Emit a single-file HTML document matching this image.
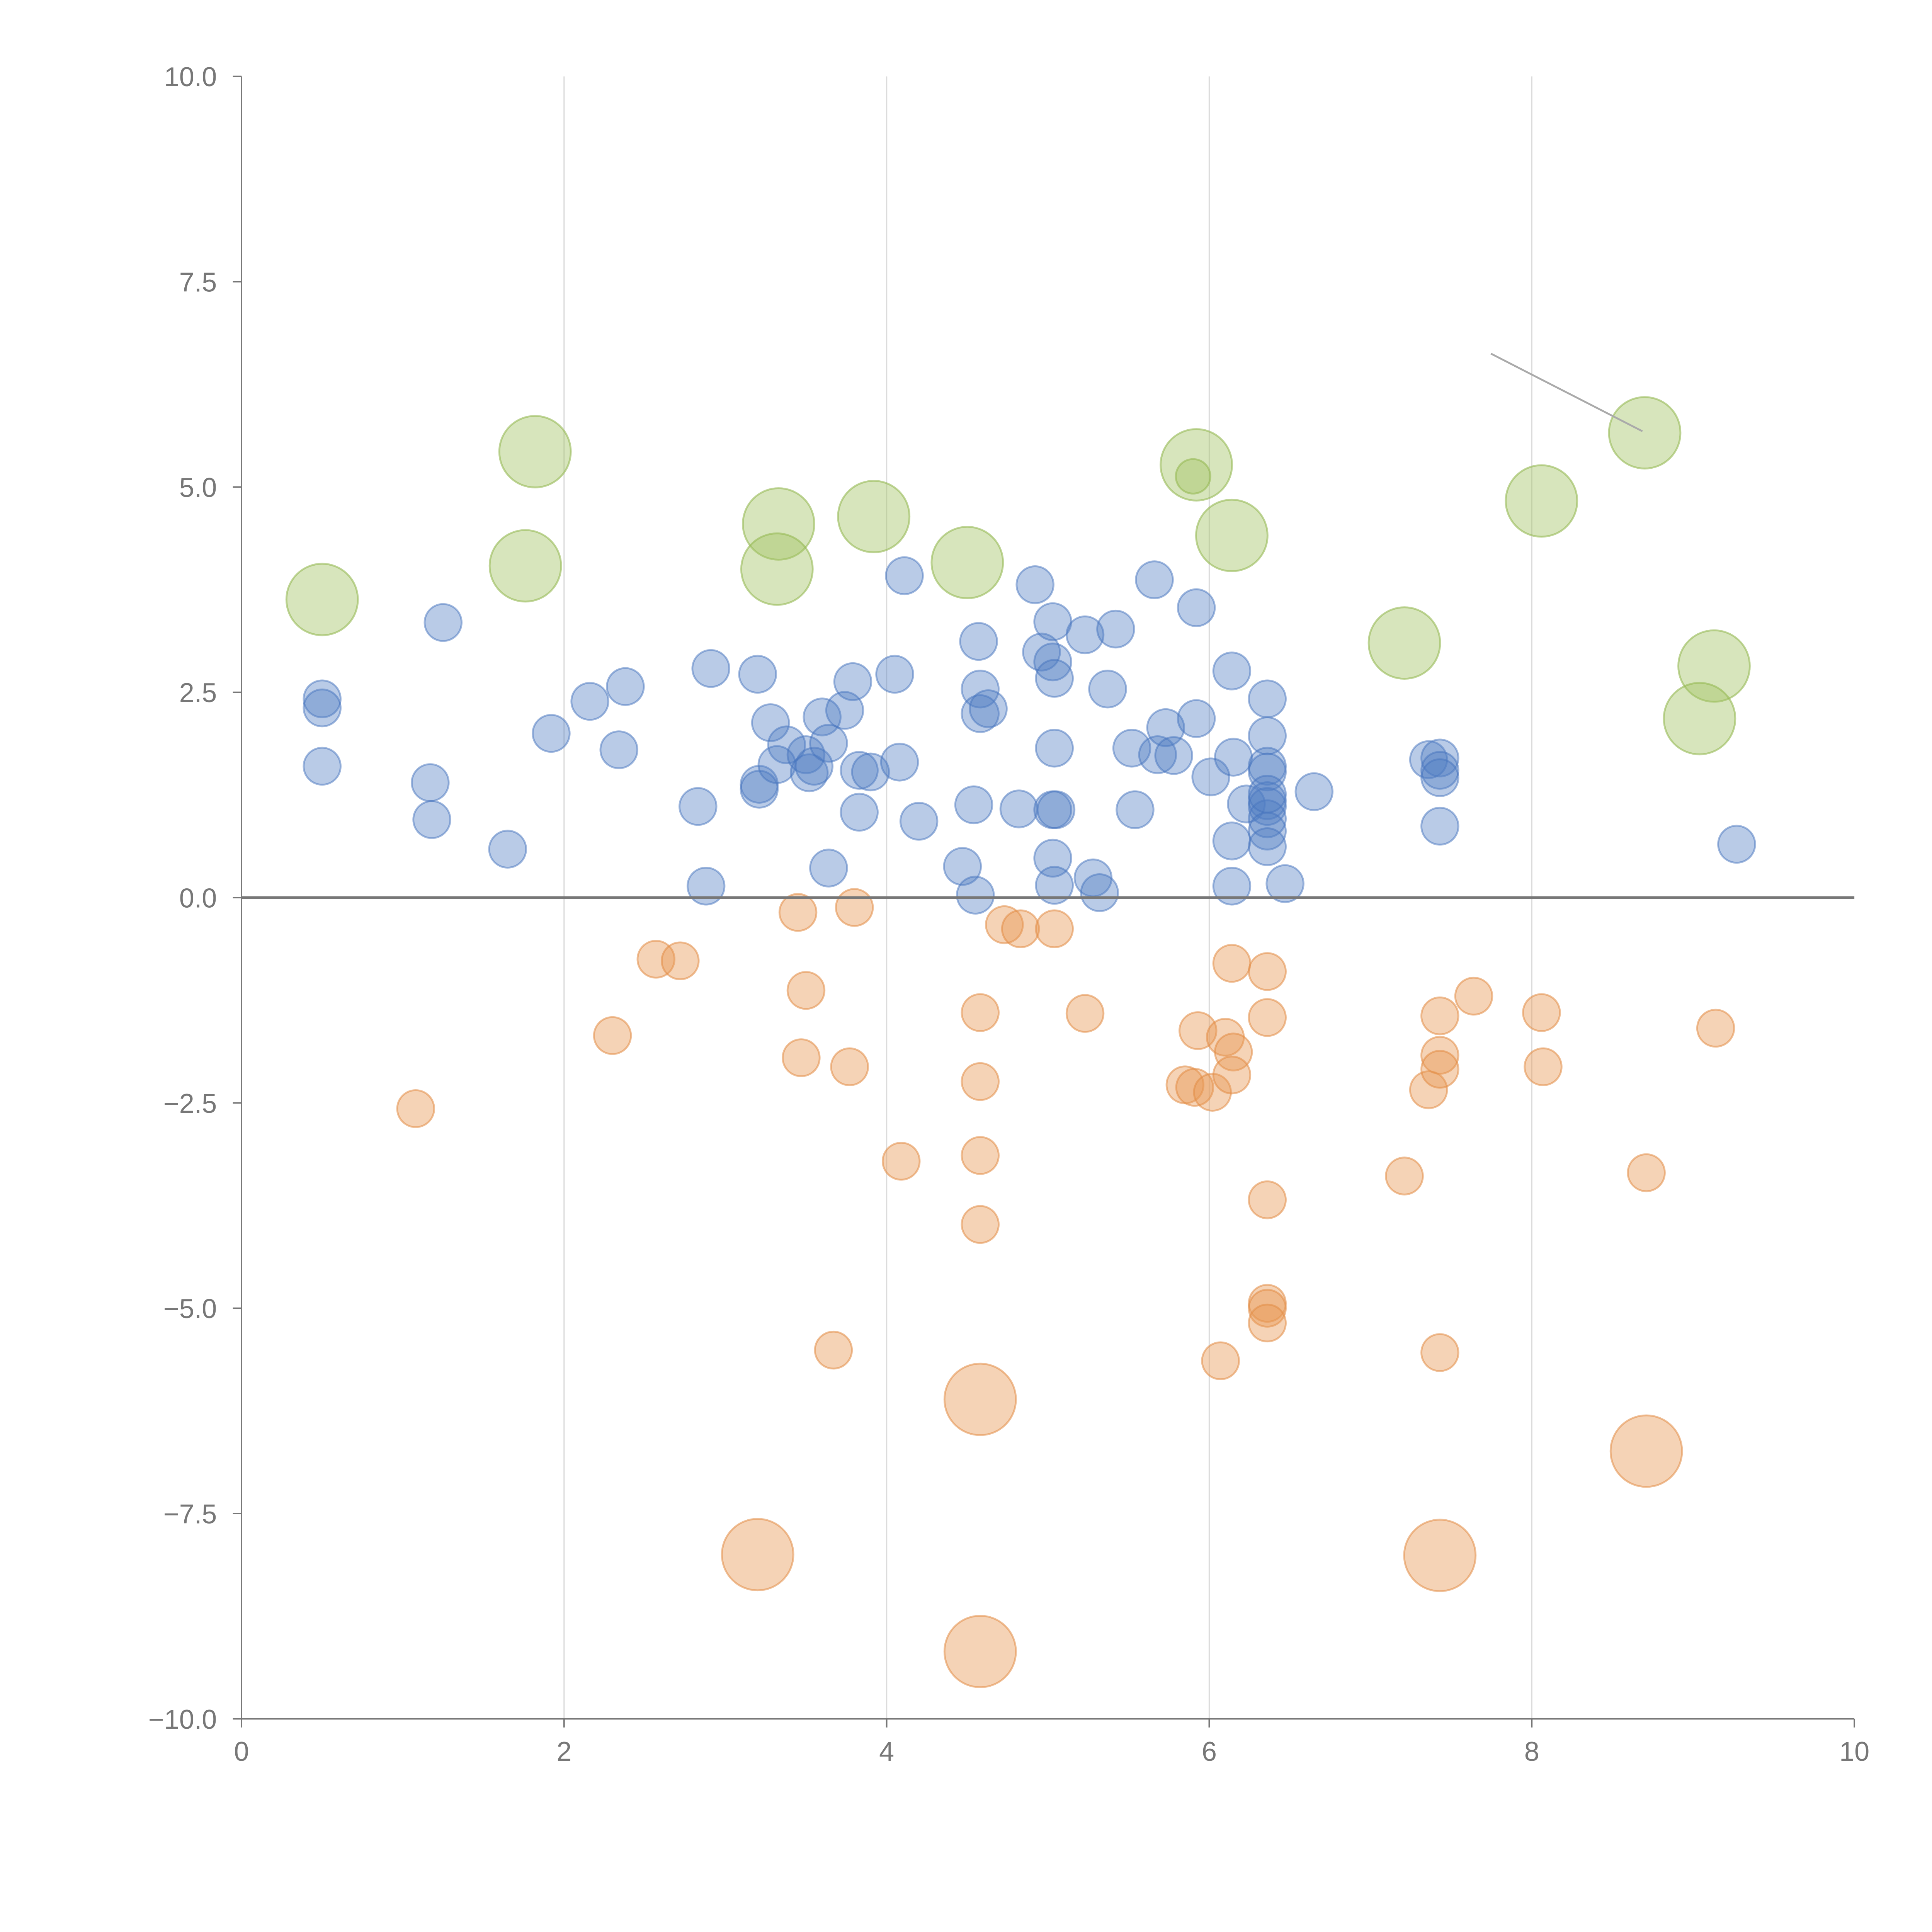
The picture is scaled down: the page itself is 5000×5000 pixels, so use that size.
<!DOCTYPE html>
<html><head><meta charset="utf-8"><style>
html,body{margin:0;padding:0;background:#fff;}
svg{display:block;font-family:"Liberation Sans",sans-serif;}
</style></head><body>
<svg id="chart" width="5000" height="5000" viewBox="0 0 1568 1568" xmlns="http://www.w3.org/2000/svg">
<g id="grid"></g>
<g id="marks"></g>
<g id="axes"></g>
<line x1="1210" y1="287" x2="1333" y2="350" stroke="#aaa" stroke-width="1.5"/>
</svg>
<script>
const xTicks=[0,2,4,6,8,10];
const yTicks=[10,7.5,5,2.5,0,-2.5,-5,-7.5,-10];
const yTickLabels=["10.0","7.5","5.0","2.5","0.0","\u22122.5","\u22125.0","\u22127.5","\u221210.0"];
const blueX=[0.5,0.5,0.5,1.25,1.17,1.18,1.65,1.92,2.16,2.38,2.34,2.83,2.91,2.88,3.2,3.21,3.21,3.28,3.38,3.32,3.5,3.52,3.55,3.6,3.64,3.74,3.79,3.83,3.9,3.83,3.64,4.05,4.08,4.11,4.2,4.47,4.55,4.54,4.57,4.58,4.58,4.63,4.82,4.92,4.96,5.03,5.03,5.04,5.04,5.03,5.05,5.03,5.04,5.23,5.42,5.37,5.66,5.28,5.32,5.52,5.54,5.68,5.73,5.78,5.92,5.92,6.01,6.14,6.15,6.23,6.14,6.14,6.36,6.36,6.36,6.36,6.36,6.36,6.36,6.36,6.36,6.36,6.47,6.65,7.36,7.43,7.43,7.43,7.43,9.27];
const blueY=[2.42,2.31,1.6,3.35,1.4,0.95,0.59,2.0,2.39,2.57,1.8,1.11,2.79,0.14,2.72,1.38,1.32,2.13,1.86,1.62,1.74,1.52,1.6,2.2,1.88,2.28,2.63,1.55,1.53,1.04,0.36,2.72,1.65,3.92,0.93,0.38,0.03,1.13,3.12,2.54,2.24,2.3,1.08,3.81,2.99,3.36,2.87,2.67,1.82,1.07,1.07,0.48,0.15,3.2,3.27,2.54,3.87,0.24,0.06,1.82,1.07,1.74,2.07,1.73,3.53,2.18,1.47,2.76,1.71,1.14,0.69,0.14,2.42,1.97,1.6,1.53,1.18,1.11,0.96,0.81,0.62,1.26,0.17,1.29,1.68,1.7,1.55,1.46,0.87,0.65];
const orangeX=[1.08,2.3,2.57,2.72,3.45,3.5,3.47,3.67,3.77,3.8,4.09,4.58,4.58,4.58,4.58,4.73,4.83,5.04,5.23,5.85,5.91,5.93,6.02,6.1,6.15,6.14,6.14,6.07,6.36,6.36,6.36,6.36,6.36,6.36,7.21,7.36,7.43,7.43,7.43,7.43,7.64,8.06,8.07,8.71,9.14];
const orangeY=[-2.57,-1.68,-0.75,-0.77,-0.18,-1.13,-1.95,-5.51,-2.06,-0.12,-3.21,-1.4,-2.24,-3.14,-3.98,-0.33,-0.38,-0.38,-1.41,-2.28,-2.31,-1.62,-2.37,-1.7,-1.88,-2.16,-0.8,-5.64,-0.9,-1.46,-3.68,-4.94,-5.0,-5.18,-3.39,-2.34,-1.44,-1.92,-2.09,-5.54,-1.2,-1.4,-2.06,-3.35,-1.59];
const orangeBigX=[4.58,3.2,4.58,7.43,8.71];
const orangeBigY=[-6.11,-8.0,-9.18,-8.01,-6.74];
const greenX=[0.5,1.76,1.82,3.33,3.32,3.92,4.5,5.92,6.14,7.21,8.06,8.7,9.13,9.04];
const greenY=[3.63,4.04,5.43,4.55,4.0,4.64,4.08,5.27,4.41,3.1,4.83,5.66,2.82,2.18];
const greenSmallX=[5.9];
const greenSmallY=[5.13];

const X0=196,X1=1505,YT=62,YB=1395;
const sx=v=>X0+(v-0)/(10-0)*(X1-X0);
const sy=v=>YB-(v+10)/20*(YB-YT);
const NS="http://www.w3.org/2000/svg";
function mk(tag,attrs,parent){const e=document.createElementNS(NS,tag);for(const k in attrs)e.setAttribute(k,attrs[k]);parent.appendChild(e);return e;}
const grid=document.getElementById('grid'),marks=document.getElementById('marks'),axes=document.getElementById('axes');

xTicks.forEach(t=>{
  if(t>0&&t<10){const g=mk('line',{x1:sx(t),x2:sx(t),y1:YT,y2:YB,stroke:'#dcdcdc','stroke-width':1},grid);
  
  }
  const tk=mk('line',{x1:sx(t),x2:sx(t),y1:YB,y2:YB+7,stroke:'#777','stroke-width':1.2},axes);
  
  
  const tx=mk('text',{x:sx(t),y:YB+34,'text-anchor':'middle','font-size':22,fill:'#777'},axes);
  tx.textContent=String(t);
  
  
});
yTicks.forEach((t,i)=>{
  const tk=mk('line',{x1:X0-7,x2:X0,y1:sy(t),y2:sy(t),stroke:'#777','stroke-width':1.2},axes);
  
  
  const tx=mk('text',{x:X0-20,y:sy(t)+8,'text-anchor':'end','font-size':22,fill:'#777'},axes);
  tx.textContent=yTickLabels[i];
  
  
});
const la=mk('line',{x1:X0,x2:X0,y1:YT,y2:YB,stroke:'#777','stroke-width':1.2},axes);


const ba=mk('line',{x1:X0,x2:X1,y1:YB,y2:YB,stroke:'#777','stroke-width':1.2},axes);


const zl=mk('line',{x1:X0,x2:X1,y1:sy(0),y2:sy(0),stroke:'#777','stroke-width':2.2},axes);



function series(xs,ys,r,fill,stroke,name){
  xs.forEach((x,i)=>{
    const c=mk('circle',{cx:sx(x),cy:sy(ys[i]),r:r,fill:fill,stroke:stroke,'stroke-width':1.5},marks);
    
    
  });
}
series(greenX,greenY,29,'rgba(160,192,95,0.42)','rgba(150,185,85,0.6)','green-bubble');
series(greenSmallX,greenSmallY,14,'rgba(160,192,95,0.42)','rgba(150,185,85,0.6)','green-bubble-small');
series(orangeBigX,orangeBigY,29,'rgba(230,150,80,0.42)','rgba(225,140,70,0.55)','orange-bubble-large');
series(orangeX,orangeY,15,'rgba(230,150,80,0.42)','rgba(225,140,70,0.55)','orange-bubble');
series(blueX,blueY,15,'rgba(80,125,195,0.4)','rgba(70,115,190,0.5)','blue-bubble');
</script>
</body></html>
